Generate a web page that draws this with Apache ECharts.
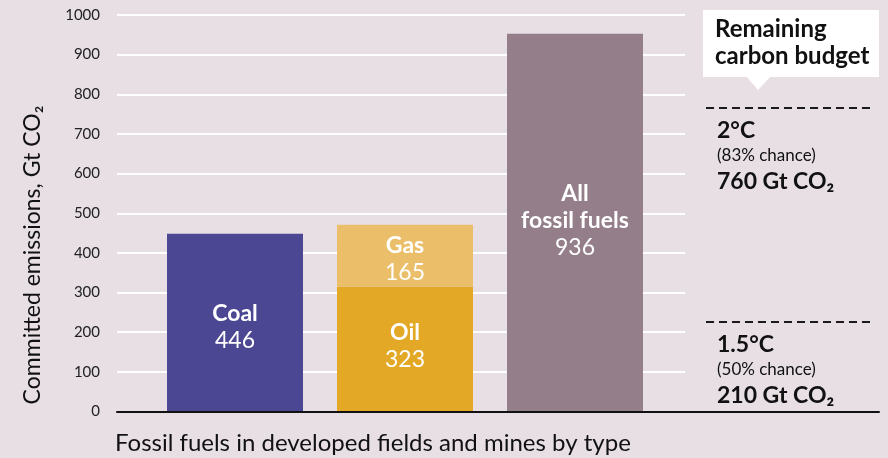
<!DOCTYPE html>
<html>
<head>
<meta charset="utf-8">
<script src="https://cdn.jsdelivr.net/npm/echarts@6/dist/echarts.min.js"></script>
<style>
  html, body { margin: 0; padding: 0; background: #e7dfe4; }
  #chart { width: 888px; height: 458px; }
</style>
</head>
<body>
<div id="chart"></div>
<script>
// -- data --
let categories = ['Coal', 'Oil and gas', 'All fossil fuels'];
let coalBar = [448, '-', '-'];
let oilBar = ['-', 315, '-'];
let gasBar = ['-', 156, '-'];
let allBar = ['-', '-', 953];
// printed numbers on the bars
let coalLabel = 446, oilLabel = 323, gasLabel = 165, allLabel = 936;
let yTicks = [0, 1000, 100];
// remaining carbon budget lines
let budgetLevels = [766, 226];
let budgetTitles = ['2°C', '1.5°C'];
let budgetChances = ['(83% chance)', '(50% chance)'];
let budgetValues = ['760 Gt CO₂', '210 Gt CO₂'];

const FONT = 'Lato, "Noto Sans", sans-serif';
const TOP = 15, BOTTOM = 46.5;

function barLabel(name, value, offsetY) {
  return {
    show: true,
    position: 'inside',
    offset: [0, offsetY || 0],
    fontFamily: FONT,
    color: '#fff',
    formatter: () => name.split('\n').map(s => '{b|' + s + '}').join('\n') + '\n{v|' + value + '}',
    rich: {
      b: {fontFamily: FONT, fontWeight: 'bold', fontSize: 23, color: '#fff', lineHeight: 27},
      v: {fontFamily: FONT, fontSize: 23, color: '#fff', lineHeight: 27}
    }
  };
}

let yBase = {
  type: 'value', min: yTicks[0], max: yTicks[1], interval: yTicks[2],
  axisLine: {show: false}, axisTick: {show: false},
  axisLabel: {show: false}, splitLine: {show: false}
};

let option = {
  backgroundColor: '#e7dfe4',
  animation: false,
  grid: [
    {left: 117, right: 203, top: TOP, bottom: BOTTOM},   // gridlines + y labels
    {left: 150, width: 510, top: TOP, bottom: BOTTOM},   // bars
    {left: 706, right: 14, top: TOP, bottom: BOTTOM},    // budget lines
    {left: 117, right: 9, top: TOP, bottom: BOTTOM}      // baseline
  ],
  xAxis: [
    {gridIndex: 0, type: 'category', data: [''], show: false},
    {gridIndex: 1, type: 'category', data: categories, show: false},
    {gridIndex: 2, type: 'value', min: 0, max: 1, show: false},
    {gridIndex: 3, type: 'category', data: [''], z: 10,
      axisLine: {show: true, lineStyle: {color: '#111', width: 2}},
      axisTick: {show: false}, axisLabel: {show: false}}
  ],
  yAxis: [
    Object.assign({}, yBase, {
      gridIndex: 0,
      axisLabel: {show: true, margin: 17, fontFamily: FONT, fontSize: 15, color: '#222',
        formatter: v => String(v)},
      splitLine: {show: true, lineStyle: {color: '#ffffff', width: 2}}
    }),
    Object.assign({}, yBase, {gridIndex: 1}),
    Object.assign({}, yBase, {gridIndex: 2}),
    Object.assign({}, yBase, {gridIndex: 3})
  ],
  series: [
    {name: 'Coal', type: 'bar', xAxisIndex: 1, yAxisIndex: 1, stack: 'all', barWidth: 136,
      data: coalBar, itemStyle: {color: '#4b4792'}, label: barLabel('Coal', coalLabel, 4)},
    {name: 'Oil', type: 'bar', xAxisIndex: 1, yAxisIndex: 1, stack: 'all', barWidth: 136,
      data: oilBar, itemStyle: {color: '#e3a926'}, label: barLabel('Oil', oilLabel, -3)},
    {name: 'Gas', type: 'bar', xAxisIndex: 1, yAxisIndex: 1, stack: 'all', barWidth: 136,
      data: gasBar, itemStyle: {color: '#ebbe69'}, label: barLabel('Gas', gasLabel, 3)},
    {name: 'All', type: 'bar', xAxisIndex: 1, yAxisIndex: 1, stack: 'all', barWidth: 136,
      data: allBar, itemStyle: {color: '#937e89'}, label: barLabel('All\nfossil fuels', allLabel, -2)},
    {
      name: 'budget', type: 'line', xAxisIndex: 2, yAxisIndex: 2, data: [],
      markLine: {
        silent: true,
        symbol: 'none',
        lineStyle: {type: [8, 5], color: '#1a1a1a', width: 2},
        data: budgetLevels.map((v, i) => ({
          yAxis: v,
          label: {
            show: true,
            position: 'insideStartBottom',
            distance: [11, 10],
            formatter: '{t|' + budgetTitles[i] + '}\n{c|' + budgetChances[i] + '}\n{v|' + budgetValues[i] + '}',
            rich: {
              t: {fontFamily: FONT, fontWeight: 'bold', fontSize: 23, color: '#111', lineHeight: 26},
              c: {fontFamily: FONT, fontSize: 17, color: '#111', lineHeight: 24},
              v: {fontFamily: FONT, fontWeight: 'bold', fontSize: 23, color: '#111', lineHeight: 28}
            }
          }
        }))
      }
    }
  ],
  graphic: [
    {
      type: 'text', x: 33, y: 255, rotation: Math.PI / 2,
      style: {text: 'Committed emissions, Gt CO₂', font: '23px ' + FONT, fill: '#111',
        align: 'center', verticalAlign: 'middle'}
    },
    {
      type: 'text', x: 115, y: 443,
      style: {text: 'Fossil fuels in developed fields and mines by type', font: '24px ' + FONT,
        fill: '#111', align: 'left', verticalAlign: 'middle'}
    },
    {type: 'rect', shape: {x: 703, y: 10, width: 176, height: 67}, style: {fill: '#ffffff'}},
    {type: 'polygon', shape: {points: [[746, 76], [771, 76], [758, 90]]}, style: {fill: '#ffffff'}},
    {
      type: 'text', x: 715, y: 16,
      style: {text: 'Remaining\ncarbon budget', font: 'bold 24px ' + FONT, fill: '#111',
        lineHeight: 27, align: 'left', verticalAlign: 'top'}
    }
  ]
};

let myChart = echarts.init(document.getElementById('chart'));
myChart.setOption(option);
</script>
</body>
</html>
